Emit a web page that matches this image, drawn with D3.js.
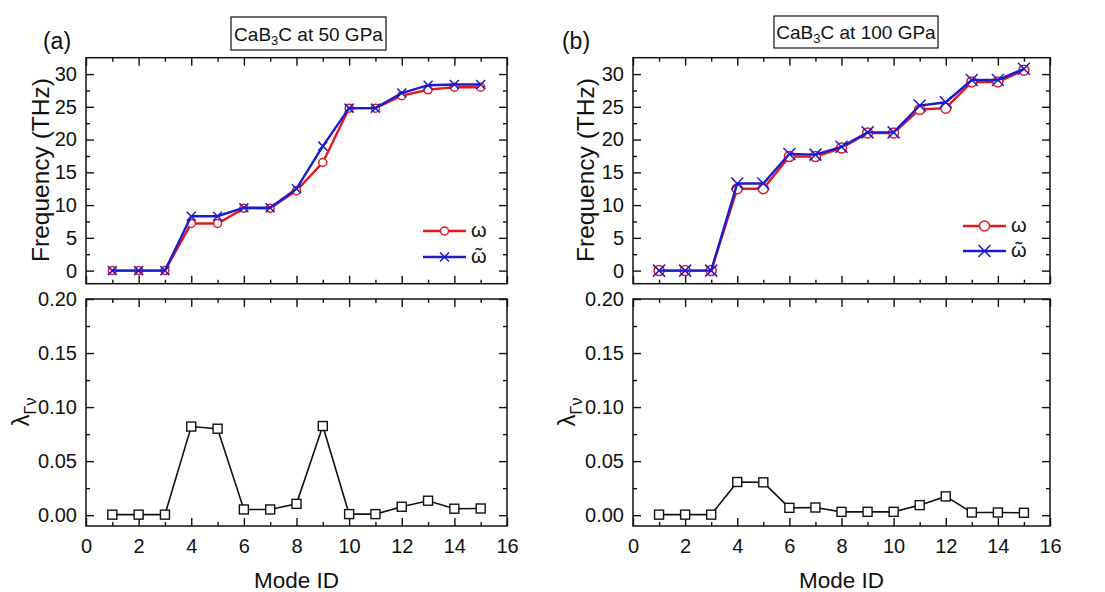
<!DOCTYPE html>
<html>
<head>
<meta charset="utf-8">
<script src="https://cdn.jsdelivr.net/npm/d3@7"></script>
<style>
body { margin: 0; background: #fff; }
svg text { font-family: Arial, "Liberation Sans", sans-serif; }
</style>
</head>
<body>
<div id="chart"></div>
<script>
// mode index shared by all panels
const modeIds = [1, 2, 3, 4, 5, 6, 7, 8, 9, 10, 11, 12, 13, 14, 15];

// 50 GPa
const omega50  = [0, 0, 0, 7.2, 7.2, 9.5, 9.5, 12.2, 16.5, 24.8, 24.8, 26.7, 27.6, 28.0, 28.0];
const omegaT50 = [0, 0, 0, 8.3, 8.3, 9.6, 9.6, 12.5, 19.0, 24.8, 24.8, 27.1, 28.3, 28.4, 28.4];
const lambda50 = [0.0005, 0.0005, 0.0005, 0.082, 0.080, 0.0053, 0.0053, 0.0105, 0.0825, 0.001, 0.001, 0.0078, 0.0134, 0.006, 0.0062];

// 100 GPa
const omega100  = [0, 0, 0, 12.5, 12.5, 17.4, 17.4, 18.7, 21.0, 21.0, 24.6, 24.8, 28.8, 28.8, 30.6];
const omegaT100 = [0, 0, 0, 13.3, 13.3, 17.8, 17.7, 18.9, 21.1, 21.1, 25.2, 25.7, 29.1, 29.1, 30.8];
const lambda100 = [0.0005, 0.0005, 0.0005, 0.0307, 0.0304, 0.0068, 0.0071, 0.0031, 0.0031, 0.0031, 0.0093, 0.0174, 0.0025, 0.0025, 0.0022];

// ticks
const xMajor = [0, 2, 4, 6, 8, 10, 12, 14, 16];
const xMinor = [1, 3, 5, 7, 9, 11, 13, 15];
const freqMajor = [0, 5, 10, 15, 20, 25, 30];
const freqMinor = [2.5, 7.5, 12.5, 17.5, 22.5, 27.5];
const lamMajor = [0, 0.05, 0.10, 0.15, 0.20];
const lamMinor = [0.025, 0.075, 0.125, 0.175];

const RED = "#e3191e";
const BLUE = "#1c1ccc";
const FONT = "Arial, 'Liberation Sans', sans-serif";

const svg = d3.select("#chart").append("svg")
    .attr("width", 1105)
    .attr("height", 592);

const panels = [
    {x0: 86, x1: 507, tag: "(a)", tagX: 57, pressure: "50", box: [231, 17, 155, 33],
     omega: omega50, omegaT: omegaT50, lambda: lambda50, circR: 4, crossR: 4.5,
     freqLabelX: 40, lamLabelX: 22, legX: [423, 466], legY: [231, 257]},
    {x0: 633, x1: 1050, tag: "(b)", tagX: 576, pressure: "100", box: [774, 16, 164, 32],
     omega: omega100, omegaT: omegaT100, lambda: lambda100, circR: 5, crossR: 6,
     freqLabelX: 585, lamLabelX: 568, legX: [963, 1006], legY: [226, 251]}
];

function drawAxes(g, x, y, yMaj, yMin, yFmt, xLabels) {
    let [yb, yt] = y.range();
    let [xl, xr] = x.range();

    let groups = [];
    groups.push(g.append("g").attr("transform", "translate(0," + yb + ")")
        .call(d3.axisBottom(x).tickValues(xMajor).tickSize(-8).tickPadding(13)
            .tickFormat(xLabels ? d3.format("d") : "")));
    groups.push(g.append("g").attr("transform", "translate(0," + yb + ")")
        .call(d3.axisBottom(x).tickValues(xMinor).tickSize(-4).tickFormat("")));
    groups.push(g.append("g").attr("transform", "translate(0," + yt + ")")
        .call(d3.axisTop(x).tickValues(xMajor).tickSize(-8).tickFormat("")));
    groups.push(g.append("g").attr("transform", "translate(0," + yt + ")")
        .call(d3.axisTop(x).tickValues(xMinor).tickSize(-4).tickFormat("")));
    groups.push(g.append("g").attr("transform", "translate(" + xl + ",0)")
        .call(d3.axisLeft(y).tickValues(yMaj).tickSize(-8).tickPadding(9).tickFormat(yFmt)));
    groups.push(g.append("g").attr("transform", "translate(" + xl + ",0)")
        .call(d3.axisLeft(y).tickValues(yMin).tickSize(-4).tickFormat("")));
    groups.push(g.append("g").attr("transform", "translate(" + xr + ",0)")
        .call(d3.axisRight(y).tickValues(yMaj).tickSize(-8).tickFormat("")));
    groups.push(g.append("g").attr("transform", "translate(" + xr + ",0)")
        .call(d3.axisRight(y).tickValues(yMin).tickSize(-4).tickFormat("")));

    groups.forEach(a => {
        a.attr("font-family", FONT).attr("font-size", 20);
        a.select(".domain").remove();
        a.selectAll(".tick line").attr("stroke", "#111").attr("stroke-width", 1.4);
        a.selectAll(".tick text").attr("fill", "#111");
    });

    // frame
    g.append("rect")
        .attr("x", xl).attr("y", yt)
        .attr("width", xr - xl).attr("height", yb - yt)
        .attr("fill", "none").attr("stroke", "#111").attr("stroke-width", 1.5);
}

function crossPath(r) {
    return "M" + (-r) + "," + (-r) + "L" + r + "," + r + "M" + (-r) + "," + r + "L" + r + "," + (-r);
}

panels.forEach(p => {
    let g = svg.append("g");

    let x = d3.scaleLinear().domain([0, 16]).range([p.x0, p.x1]);
    let yF = d3.scaleLinear().domain([-2, 32.5]).range([283.7, 57.7]);
    let yL = d3.scaleLinear().domain([-0.01, 0.2]).range([526, 299]);

    drawAxes(g, x, yF, freqMajor, freqMinor, d3.format("d"), false);
    drawAxes(g, x, yL, lamMajor, lamMinor, d3.format(".2f"), true);

    // frequency lines
    let omegaData = modeIds.map((m, i) => ({m: m, v: p.omega[i]}));
    let omegaTData = modeIds.map((m, i) => ({m: m, v: p.omegaT[i]}));
    let lineF = d3.line().x(d => x(d.m)).y(d => yF(d.v));

    g.append("path").datum(omegaData)
        .attr("d", lineF).attr("fill", "none")
        .attr("stroke", RED).attr("stroke-width", 2.4);
    g.selectAll(".circ").data(omegaData).enter().append("circle")
        .attr("class", "circ")
        .attr("cx", d => x(d.m)).attr("cy", d => yF(d.v)).attr("r", p.circR)
        .attr("fill", "#fff").attr("stroke", RED).attr("stroke-width", 1.5);

    g.append("path").datum(omegaTData)
        .attr("d", lineF).attr("fill", "none")
        .attr("stroke", BLUE).attr("stroke-width", 2.4);
    g.selectAll(".cross").data(omegaTData).enter().append("path")
        .attr("class", "cross")
        .attr("transform", d => "translate(" + x(d.m) + "," + yF(d.v) + ")")
        .attr("d", crossPath(p.crossR))
        .attr("fill", "none").attr("stroke", BLUE).attr("stroke-width", 1.5);

    // lambda line
    let lamData = modeIds.map((m, i) => ({m: m, v: p.lambda[i]}));
    g.append("path").datum(lamData)
        .attr("d", d3.line().x(d => x(d.m)).y(d => yL(d.v)))
        .attr("fill", "none").attr("stroke", "#111").attr("stroke-width", 1.6);
    g.selectAll(".sq").data(lamData).enter().append("rect")
        .attr("class", "sq")
        .attr("x", d => x(d.m) - 4.5).attr("y", d => yL(d.v) - 4.5)
        .attr("width", 9).attr("height", 9)
        .attr("fill", "#fff").attr("stroke", "#111").attr("stroke-width", 1.4);

    // legend
    let legItems = [
        {color: RED, type: "circle", tilde: false},
        {color: BLUE, type: "cross", tilde: true}
    ];
    legItems.forEach((it, i) => {
        let ly = p.legY[i];
        let mx = (p.legX[0] + p.legX[1]) / 2;
        g.append("line")
            .attr("x1", p.legX[0]).attr("x2", p.legX[1]).attr("y1", ly).attr("y2", ly)
            .attr("stroke", it.color).attr("stroke-width", 2.4);
        if (it.type === "circle") {
            g.append("circle").attr("cx", mx).attr("cy", ly).attr("r", p.circR)
                .attr("fill", "#fff").attr("stroke", it.color).attr("stroke-width", 1.5);
        } else {
            g.append("path").attr("transform", "translate(" + mx + "," + ly + ")")
                .attr("d", crossPath(p.crossR))
                .attr("fill", "none").attr("stroke", it.color).attr("stroke-width", 1.5);
        }
        let lt = g.append("text")
            .attr("x", p.legX[1] + 5).attr("y", ly + 6)
            .attr("font-size", 20).attr("fill", "#111");
        let w = lt.append("tspan").text("\u03C9");
        if (it.tilde) {
            // tilde set over the omega (combining mark does not stack in this font)
            let ww = w.node().getComputedTextLength();
            let tl = lt.append("tspan").text("\u02DC");
            let tw = tl.node().getComputedTextLength();
            tl.attr("dx", -(ww + tw) / 2).attr("dy", -1);
        }
    });

    // axis labels
    g.append("text")
        .attr("transform", "translate(" + (p.freqLabelX + 9) + "," + 170 + ") rotate(-90)")
        .attr("text-anchor", "middle").attr("font-size", 24.5).attr("fill", "#111")
        .text("Frequency (THz)");

    let lam = g.append("text")
        .attr("transform", "translate(" + (p.lamLabelX + 7) + "," + 412 + ") rotate(-90)")
        .attr("text-anchor", "middle").attr("font-size", 24).attr("fill", "#111");
    lam.append("tspan").text("\u03BB");
    lam.append("tspan").attr("font-size", 16).attr("dy", 7).text("\u0393\u03BD");

    g.append("text")
        .attr("x", (p.x0 + p.x1) / 2).attr("y", 588)
        .attr("text-anchor", "middle").attr("font-size", 22.5).attr("fill", "#111")
        .text("Mode ID");

    // panel tag
    g.append("text")
        .attr("x", p.tagX).attr("y", 49)
        .attr("text-anchor", "middle").attr("font-size", 23).attr("fill", "#111")
        .text(p.tag);

    // title box
    g.append("rect")
        .attr("x", p.box[0]).attr("y", p.box[1])
        .attr("width", p.box[2]).attr("height", p.box[3])
        .attr("fill", "#fff").attr("stroke", "#111").attr("stroke-width", 1.2);
    let t = g.append("text")
        .attr("x", p.box[0] + p.box[2] / 2).attr("y", p.box[1] + p.box[3] / 2 + 7)
        .attr("text-anchor", "middle").attr("font-size", 19).attr("fill", "#111");
    t.append("tspan").text("CaB");
    t.append("tspan").attr("font-size", 13).attr("dy", 4).text("3");
    t.append("tspan").attr("dy", -4).text("C at " + p.pressure + " GPa");
});
</script>
</body>
</html>
